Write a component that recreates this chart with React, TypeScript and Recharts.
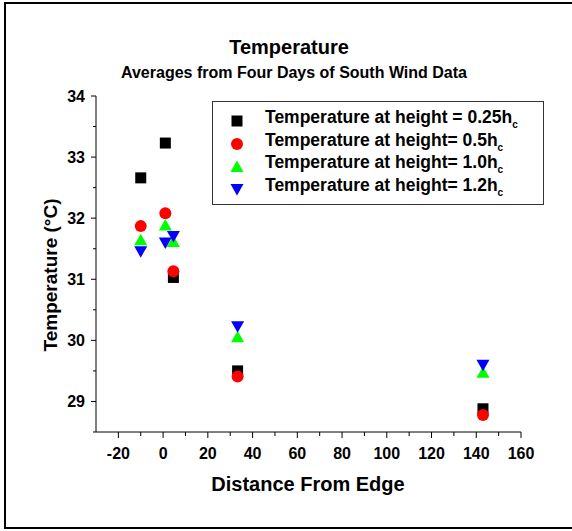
import { ScatterChart, Scatter, XAxis, YAxis, Legend } from "recharts";

const distance = [-10, 1, 4.6, 33.3, 143];
const temp025 = [32.66, 33.23, 31.03, 29.5, 28.88];
const temp05 = [31.87, 32.08, 31.13, 29.41, 28.78];
const temp10 = [31.64, 31.88, 31.61, 30.05, 29.47];
const temp12 = [31.46, 31.6, 31.71, 30.23, 29.6];

const xTicks = [-20, -10, 0, 10, 20, 30, 40, 50, 60, 70, 80, 90, 100, 110, 120, 130, 140, 150, 160];
const yTicks = [28.5, 29, 29.5, 30, 30.5, 31, 31.5, 32, 32.5, 33, 33.5, 34];

const FONT = "'Liberation Sans', Arial, sans-serif";

const toPoints = (temps: number[]) => distance.map((d, i) => ({ x: d, y: temps[i] }));

const series = [
  { name: "Temperature at height = 0.25h", data: toPoints(temp025), color: "#000000", kind: "square" },
  { name: "Temperature at height= 0.5h", data: toPoints(temp05), color: "#ff0000", kind: "circle" },
  { name: "Temperature at height= 1.0h", data: toPoints(temp10), color: "#00ff00", kind: "up" },
  { name: "Temperature at height= 1.2h", data: toPoints(temp12), color: "#0000ff", kind: "down" },
];

function Marker({ cx, cy, kind, color }: { cx: number; cy: number; kind: string; color: string }) {
  if (kind === "square") return <rect x={cx - 5.5} y={cy - 5.5} width={11} height={11} fill={color} />;
  if (kind === "circle") return <circle cx={cx} cy={cy} r={6} fill={color} />;
  if (kind === "up")
    return <polygon points={`${cx},${cy - 6.5} ${cx + 6.5},${cy + 5} ${cx - 6.5},${cy + 5}`} fill={color} />;
  return <polygon points={`${cx},${cy + 6.5} ${cx + 6.5},${cy - 5} ${cx - 6.5},${cy - 5}`} fill={color} />;
}

const XTick = (props: any) => {
  const { x, y, payload } = props;
  const major = payload.value % 20 === 0;
  return (
    <g>
      <line x1={x} x2={x} y1={y} y2={y + (major ? 6 : 4)} stroke="#000" />
      {major && (
        <text x={x} y={y + 27} textAnchor="middle" fontFamily={FONT} fontWeight="bold" fontSize={16} fill="#000">
          {payload.value}
        </text>
      )}
    </g>
  );
};

const YTick = (props: any) => {
  const { x, y, payload } = props;
  const major = Number.isInteger(payload.value);
  return (
    <g>
      <line x1={x} x2={x - (major ? 5 : 3)} y1={y} y2={y} stroke="#000" />
      {major && (
        <text x={x - 11} y={y + 6} textAnchor="end" fontFamily={FONT} fontWeight="bold" fontSize={16} fill="#000">
          {payload.value}
        </text>
      )}
    </g>
  );
};

const LegendBox = () => (
  <div
    style={{
      width: 332,
      height: 104,
      border: "1.5px solid #333",
      boxSizing: "border-box",
      paddingTop: 8,
      fontFamily: FONT,
      fontWeight: "bold",
      fontSize: 17.5,
      background: "#fff",
    }}
  >
    {series.map((s) => (
      <div key={s.name} style={{ height: 22.7, lineHeight: "22.7px", display: "flex", alignItems: "center" }}>
        <svg width={52} height={22} style={{ flexShrink: 0 }}>
          <Marker cx={24} cy={11} kind={s.kind} color={s.color} />
        </svg>
        <span style={{ whiteSpace: "nowrap" }}>
          {s.name}
          <sub style={{ fontSize: 10, verticalAlign: "-5px" }}>c</sub>
        </span>
      </div>
    ))}
  </div>
);

export default function App() {
  return (
    <div style={{ position: "absolute", left: 0, top: 0, width: 572, height: 531, background: "#fff" }}>
      <div
        style={{
          position: "absolute",
          left: 4,
          top: 2,
          width: 600,
          height: 523,
          borderLeft: "2px solid #000",
          borderTop: "2px solid #000",
          borderBottom: "2px solid #000",
        }}
      />
      <ScatterChart width={572} height={531} margin={{ top: 96, right: 51, left: 0, bottom: 69 }}>
        <XAxis
          type="number"
          dataKey="x"
          domain={[-30, 160]}
          ticks={xTicks}
          tick={<XTick />}
          tickLine={false}
          tickSize={0}
          tickMargin={0}
          height={30}
          axisLine={{ stroke: "#000" }}
          interval={0}
        />
        <YAxis
          type="number"
          dataKey="y"
          domain={[28.5, 34]}
          ticks={yTicks}
          tick={<YTick />}
          tickLine={false}
          tickSize={0}
          tickMargin={0}
          width={96}
          axisLine={{ stroke: "#000" }}
          interval={0}
        />
        <Legend
          layout="vertical"
          align="center"
          verticalAlign="middle"
          content={<LegendBox />}
          wrapperStyle={{ position: "absolute", left: 212, top: 101, width: 332 }}
        />
        {series.map((s) => (
          <Scatter
            key={s.name}
            name={s.name}
            data={s.data}
            fill={s.color}
            isAnimationActive={false}
            shape={(p: any) => <Marker cx={p.cx} cy={p.cy} kind={s.kind} color={s.color} />}
          />
        ))}
        <text x={289} y={54} textAnchor="middle" fontFamily={FONT} fontWeight="bold" fontSize={20} fill="#000">
          Temperature
        </text>
        <text x={294} y={78} textAnchor="middle" fontFamily={FONT} fontWeight="bold" fontSize={16} fill="#000">
          Averages from Four Days of South Wind Data
        </text>
        <text x={308} y={491} textAnchor="middle" fontFamily={FONT} fontWeight="bold" fontSize={20} fill="#000">
          Distance From Edge
        </text>
        <text
          x={0}
          y={0}
          transform="translate(57, 275) rotate(-90)"
          textAnchor="middle"
          fontFamily={FONT}
          fontWeight="bold"
          fontSize={19}
          fill="#000"
        >
          Temperature (°C)
        </text>
      </ScatterChart>
    </div>
  );
}
